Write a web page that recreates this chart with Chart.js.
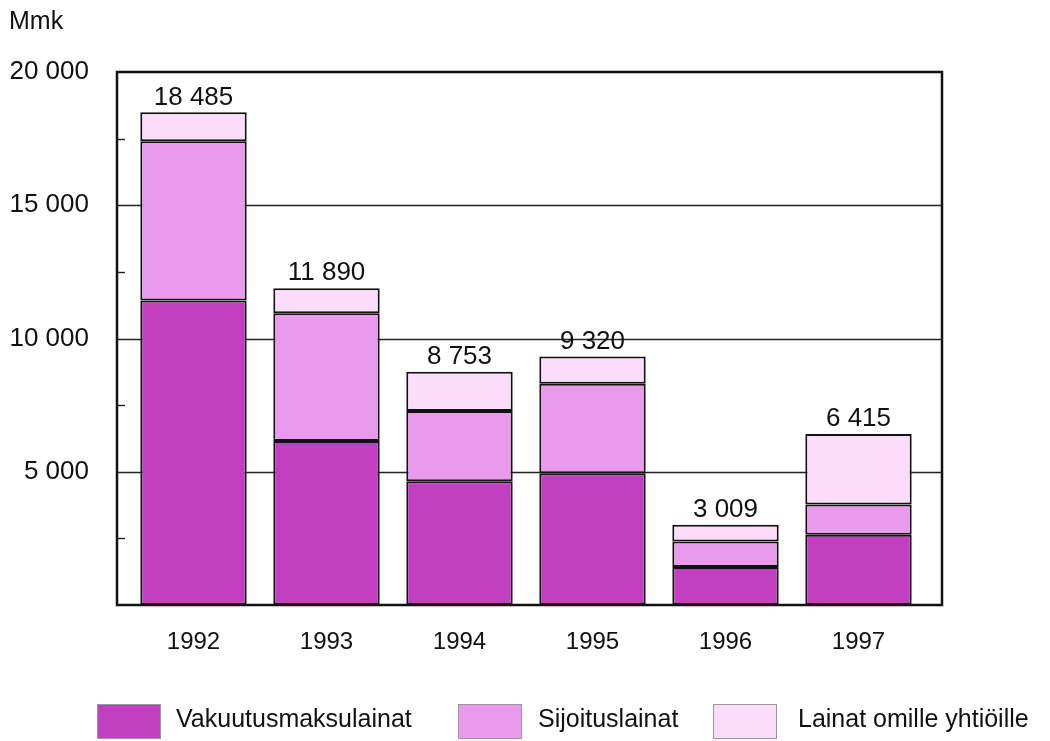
<!DOCTYPE html>
<html lang="fi">
<head>
    <meta charset="UTF-8">
    <title>Mmk</title>
    <script src="https://cdn.jsdelivr.net/npm/chart.js"></script>
    <style>
        html, body { margin: 0; padding: 0; background: #ffffff; }
        #wrap { width: 1050px; height: 741px; position: relative; }
    </style>
</head>
<body>
    <div id="wrap"><canvas id="lainat"></canvas></div>

    <script>
        // Data
        const years = ['1992', '1993', '1994', '1995', '1996', '1997'];
        const vakuutusmaksulainat = [11430, 6150, 4640, 4940, 1430, 2640];
        const sijoituslainat = [5970, 4800, 2640, 3360, 950, 1130];
        const omilleYhtioille = [1085, 940, 1473, 1020, 629, 2645];
        const totals = [18485, 11890, 8753, 9320, 3009, 6415];
        const seriesNames = ['Vakuutusmaksulainat', 'Sijoituslainat', 'Lainat omille yhtiöille'];
        const yTicks = [5000, 10000, 15000, 20000];

        const FONT = '"Liberation Sans", Arial, sans-serif';
        const colors = ['#c43ec2', '#e99aeb', '#fbdcfb'];
        const frame = { left: 117, right: 942 };

        function fmt(n) {
            return String(n).replace(/\B(?=(\d{3})+(?!\d))/g, ' ');
        }

        // gridlines, frame, minor ticks, totals, legend
        const decor = {
            id: 'decor',
            beforeDatasetsDraw(chart) {
                const ctx = chart.ctx;
                const y = chart.scales.y;
                ctx.save();
                ctx.strokeStyle = '#222';
                ctx.lineWidth = 1.4;
                yTicks.forEach(v => {
                    if (v >= 20000) return;
                    const py = Math.round(y.getPixelForValue(v)) + 0.5;
                    ctx.beginPath();
                    ctx.moveTo(frame.left, py);
                    ctx.lineTo(frame.right, py);
                    ctx.stroke();
                });
                // small inner ticks between gridlines
                [2500, 7500, 12500, 17500].forEach(v => {
                    const py = Math.round(y.getPixelForValue(v)) + 0.5;
                    ctx.beginPath();
                    ctx.moveTo(frame.left, py);
                    ctx.lineTo(frame.left + 8, py);
                    ctx.stroke();
                });
                ctx.restore();
            },
            afterDatasetsDraw(chart) {
                const ctx = chart.ctx;
                const area = chart.chartArea;
                ctx.save();
                ctx.strokeStyle = '#111';
                ctx.lineWidth = 2.5;
                ctx.strokeRect(frame.left, area.top, frame.right - frame.left, area.bottom - area.top);

                // totals above bars
                const top = chart.getDatasetMeta(2);
                ctx.fillStyle = '#111';
                ctx.font = '26px ' + FONT;
                ctx.textAlign = 'center';
                ctx.textBaseline = 'bottom';
                top.data.forEach((bar, i) => {
                    ctx.fillText(fmt(totals[i]), bar.x, bar.y - 2);
                });

                // "Mmk" unit
                ctx.font = '25px ' + FONT;
                ctx.textAlign = 'left';
                ctx.textBaseline = 'middle';
                ctx.fillText('Mmk', 9, 22);

                // legend
                const boxes = [97, 458, 713];
                const textX = [176, 538, 798];
                chart.data.datasets.forEach((ds, i) => {
                    ctx.fillStyle = ds.backgroundColor;
                    ctx.fillRect(boxes[i], 704, 63, 34);
                    ctx.strokeStyle = '#999';
                    ctx.lineWidth = 1;
                    ctx.strokeRect(boxes[i] + 0.5, 704.5, 63, 34);
                    ctx.fillStyle = '#111';
                    ctx.fillText(ds.label, textX[i], 720);
                });
                ctx.restore();
            }
        };

        new Chart(document.getElementById('lainat'), {
            type: 'bar',
            data: {
                labels: years,
                datasets: [
                    { label: seriesNames[0], data: vakuutusmaksulainat, backgroundColor: colors[0] },
                    { label: seriesNames[1], data: sijoituslainat, backgroundColor: colors[1] },
                    { label: seriesNames[2], data: omilleYhtioille, backgroundColor: colors[2] }
                ].map(d => Object.assign(d, {
                    borderColor: '#111',
                    borderWidth: 2,
                    borderSkipped: false,
                    barPercentage: 0.8,
                    categoryPercentage: 1.0
                }))
            },
            options: {
                responsive: true,
                maintainAspectRatio: false,
                animation: false,
                layout: { padding: { top: 72, right: 125, left: 0, bottom: 0 } },
                plugins: {
                    legend: { display: false },
                    tooltip: { enabled: false }
                },
                scales: {
                    x: {
                        stacked: true,
                        grid: { display: false },
                        border: { display: false },
                        ticks: { color: '#111', font: { family: FONT, size: 24 }, padding: 15 },
                        afterFit(scale) { scale.height = 136; }
                    },
                    y: {
                        stacked: true,
                        min: 0,
                        max: 20000,
                        afterBuildTicks(scale) {
                            scale.ticks = yTicks.map(v => ({ value: v }));
                        },
                        grid: { display: false },
                        border: { display: false },
                        ticks: {
                            color: '#111',
                            font: { family: FONT, size: 26 },
                            padding: 30,
                            callback: v => fmt(v)
                        },
                        afterFit(scale) { scale.width = 127; }
                    }
                }
            },
            plugins: [decor]
        });
    </script>
</body>
</html>
